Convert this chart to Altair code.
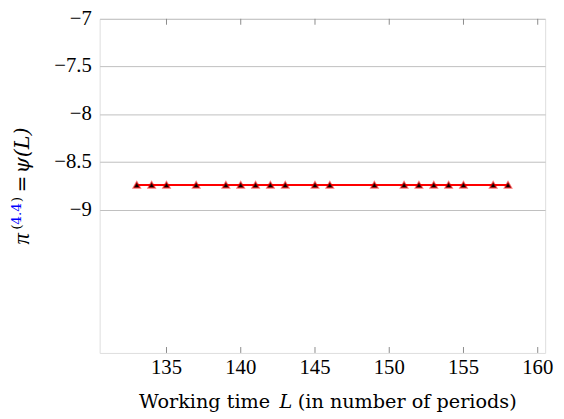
import altair as alt
import pandas as pd

# Data
L_values = [133, 134, 135, 137, 139, 140, 141, 142, 143, 145, 146,
            149, 151, 152, 153, 154, 155, 157, 158]
pi_values = [-8.74, -8.74, -8.74, -8.74, -8.74, -8.74, -8.74, -8.74, -8.74, -8.74,
             -8.74, -8.74, -8.74, -8.74, -8.74, -8.74, -8.74, -8.74, -8.74]
x_ticks = [135, 140, 145, 150, 155, 160]
x_tick_labels = ["135", "140", "145", "150", "155", "160"]
y_ticks = [-7, -7.5, -8, -8.5, -9]
y_tick_labels = ["\u22127", "\u22127.5", "\u22128", "\u22128.5", "\u22129"]

W, H = 452, 339
FONT = "Liberation Serif"
TFONT = "DejaVu Serif"

df = pd.DataFrame({"L": L_values, "pi": pi_values})
xt_df = pd.DataFrame({"t": x_ticks, "lab": x_tick_labels})
yt_df = pd.DataFrame({"t": y_ticks, "lab": y_tick_labels})

xs = alt.Scale(domain=[130.5, 160.5], nice=False, zero=False)
ys = alt.Scale(domain=[-10.5, -7], nice=False, zero=False)

base = alt.Chart(df)

line = base.mark_line(color="#ff0000", strokeWidth=2).encode(
    x=alt.X("L:Q", scale=xs, axis=None),
    y=alt.Y("pi:Q", scale=ys,
            axis=alt.Axis(values=y_ticks, title=None, grid=True, gridColor="#bfbfbf",
                          gridWidth=1, domain=False, ticks=False, labels=False)),
)

points = base.mark_point(shape="triangle-up", filled=True, fill="black", stroke="#ff0000",
                         strokeWidth=1.8, strokeOpacity=0.55, size=45, opacity=1).encode(
    x=alt.X("L:Q", scale=xs), y=alt.Y("pi:Q", scale=ys)
)

tick_bottom = alt.Chart(xt_df).mark_rule(color="#8a8a8a", strokeWidth=1).encode(
    x=alt.X("t:Q", scale=xs), y=alt.value(H), y2=alt.value(H - 6)
)
tick_top = alt.Chart(xt_df).mark_rule(color="#8a8a8a", strokeWidth=1).encode(
    x=alt.X("t:Q", scale=xs), y=alt.value(0), y2=alt.value(6)
)

x_labels = alt.Chart(xt_df).mark_text(font=FONT, fontSize=21, color="black",
                                      baseline="top", align="center").encode(
    x=alt.X("t:Q", scale=xs), y=alt.value(H + 4), text="lab:N"
)
y_labels = alt.Chart(yt_df).mark_text(font=FONT, fontSize=21, color="black",
                                      baseline="middle", align="right").encode(
    y=alt.Y("t:Q", scale=ys), x=alt.value(-8), text="lab:N"
)

one = pd.DataFrame({"a": [0]})

def txt(s, x, y, size=20, color="black", style="normal", align="left", angle=270, font=TFONT):
    return alt.Chart(one).mark_text(text=s, font=font, fontSize=size, color=color,
                                    fontStyle=style, align=align, baseline="alphabetic",
                                    angle=angle).encode(x=alt.value(x), y=alt.value(y))

# y title: pi^{(4.4)} = psi(L), reading bottom to top
ytitle = [
    txt("\u03c0", -72, 229, style="italic", size=23, font=FONT),
    txt("(", -80, 214, size=14),
    txt("4.4", -80, 209, size=14, color="#0000ff"),
    txt(")", -80, 186, size=14),
    txt("=", -72, 176),
    txt("\u03c8(L)", -72, 157, style="italic", size=21),
]

# x title
xtitle = [
    txt("Working time", 173, 395, size=19.5, align="right", angle=0),
    txt("L", 189, 395, size=19.5, style="italic", align="center", angle=0),
    txt("(in number of periods)", 201, 395, size=19.5, align="left", angle=0),
]

chart = alt.layer(line, points, tick_bottom, tick_top, x_labels, y_labels,
                  *ytitle, *xtitle).properties(
    width=W, height=H,
    autosize=alt.AutoSizeParams(type="none"),
    padding={"left": 93, "top": 8, "right": 11, "bottom": 60},
).configure_view(stroke="black", strokeWidth=1).configure(background="white")

chart.save("out.html", embed_options={"renderer": "svg", "actions": False})
